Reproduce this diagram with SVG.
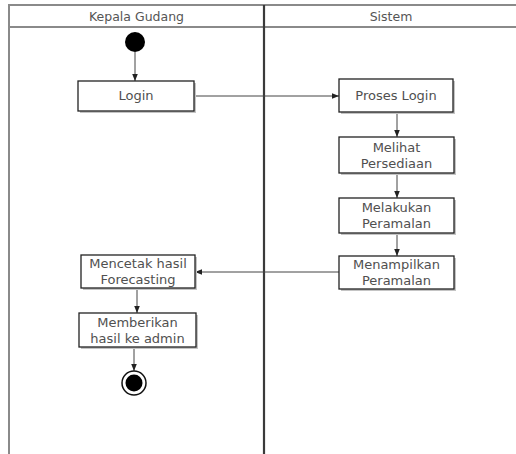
<svg xmlns="http://www.w3.org/2000/svg" width="516" height="454" viewBox="0 0 516 454">
<style>
.lane{fill:none;stroke:#8a8a8a;stroke-width:2}
.div{stroke:#3a3a3a;stroke-width:2.2}
.hdr{font-family:"DejaVu Sans",Verdana,sans-serif;font-size:12.5px;fill:#555;text-anchor:middle}
.box{fill:#fff;stroke:#222;stroke-width:1.3}
.sh{fill:#c4c4c4}
.lbl{font-family:"DejaVu Sans",Verdana,sans-serif;font-size:13px;fill:#505050;text-anchor:middle}
.edge{fill:none;stroke:#444;stroke-width:1}
</style>
<defs>
<marker id="arr" viewBox="0 0 10 10" refX="10" refY="5" markerWidth="7" markerHeight="7" orient="auto" markerUnits="userSpaceOnUse">
<path d="M0,1 L10,5 L0,9 z" fill="#222"/>
</marker>
</defs>
<rect width="516" height="454" fill="#fff"/>
<g id="swimlanes">
<rect class="lane" x="9" y="5" width="520" height="460"/>
<line class="lane" x1="9" y1="27" x2="520" y2="27"/>
<line class="div" x1="264" y1="5" x2="264" y2="454"/>
<text class="hdr" x="136.5" y="21">Kepala Gudang</text>
<text class="hdr" x="391" y="21">Sistem</text>
</g>
<g id="connectors">
<line class="edge" x1="135" y1="52" x2="135" y2="81" marker-end="url(#arr)"/>
<line class="edge" x1="194" y1="96" x2="339" y2="96" marker-end="url(#arr)"/>
<line class="edge" x1="397" y1="112" x2="397" y2="137" marker-end="url(#arr)"/>
<line class="edge" x1="397" y1="173" x2="397" y2="198" marker-end="url(#arr)"/>
<line class="edge" x1="397" y1="233" x2="397" y2="256" marker-end="url(#arr)"/>
<line class="edge" x1="339" y1="272" x2="195" y2="272" marker-end="url(#arr)"/>
<line class="edge" x1="137" y1="288" x2="137" y2="313" marker-end="url(#arr)"/>
<line class="edge" x1="134" y1="347" x2="134" y2="371" marker-end="url(#arr)"/>
</g>
<g id="start">
<circle cx="135" cy="42" r="10" fill="#000"/>
</g>
<g id="login">
<rect class="sh" x="80" y="83" width="116" height="30"/>
<rect class="box" x="78" y="81" width="116" height="30"/>
<text class="lbl" x="136" y="100">Login</text>
</g>
<g id="proses-login">
<rect class="sh" x="341" y="81" width="114" height="33"/>
<rect class="box" x="339" y="79" width="114" height="33"/>
<text class="lbl" x="396" y="100">Proses Login</text>
</g>
<g id="melihat-persediaan">
<rect class="sh" x="341" y="139" width="115" height="36"/>
<rect class="box" x="339" y="137" width="115" height="36"/>
<text class="lbl" x="396.5" y="151.5">Melihat</text>
<text class="lbl" x="396.5" y="167.5">Persediaan</text>
</g>
<g id="melakukan-peramalan">
<rect class="sh" x="341" y="200" width="115" height="35"/>
<rect class="box" x="339" y="198" width="115" height="35"/>
<text class="lbl" x="396.5" y="212">Melakukan</text>
<text class="lbl" x="396.5" y="228">Peramalan</text>
</g>
<g id="menampilkan-peramalan">
<rect class="sh" x="341" y="258" width="115" height="33"/>
<rect class="box" x="339" y="256" width="115" height="33"/>
<text class="lbl" x="396.5" y="269">Menampilkan</text>
<text class="lbl" x="396.5" y="285">Peramalan</text>
</g>
<g id="mencetak-hasil">
<rect class="sh" x="83" y="257" width="114" height="33"/>
<rect class="box" x="81" y="255" width="114" height="33"/>
<text class="lbl" x="138" y="268">Mencetak hasil</text>
<text class="lbl" x="138" y="284">Forecasting</text>
</g>
<g id="memberikan-hasil">
<rect class="sh" x="81" y="315" width="117" height="34"/>
<rect class="box" x="79" y="313" width="117" height="34"/>
<text class="lbl" x="137.5" y="327">Memberikan</text>
<text class="lbl" x="137.5" y="343">hasil ke admin</text>
</g>
<g id="end">
<circle cx="134" cy="383" r="12" fill="#fff" stroke="#111" stroke-width="1.5"/>
<circle cx="134" cy="383" r="8.5" fill="#000"/>
</g>
</svg>
